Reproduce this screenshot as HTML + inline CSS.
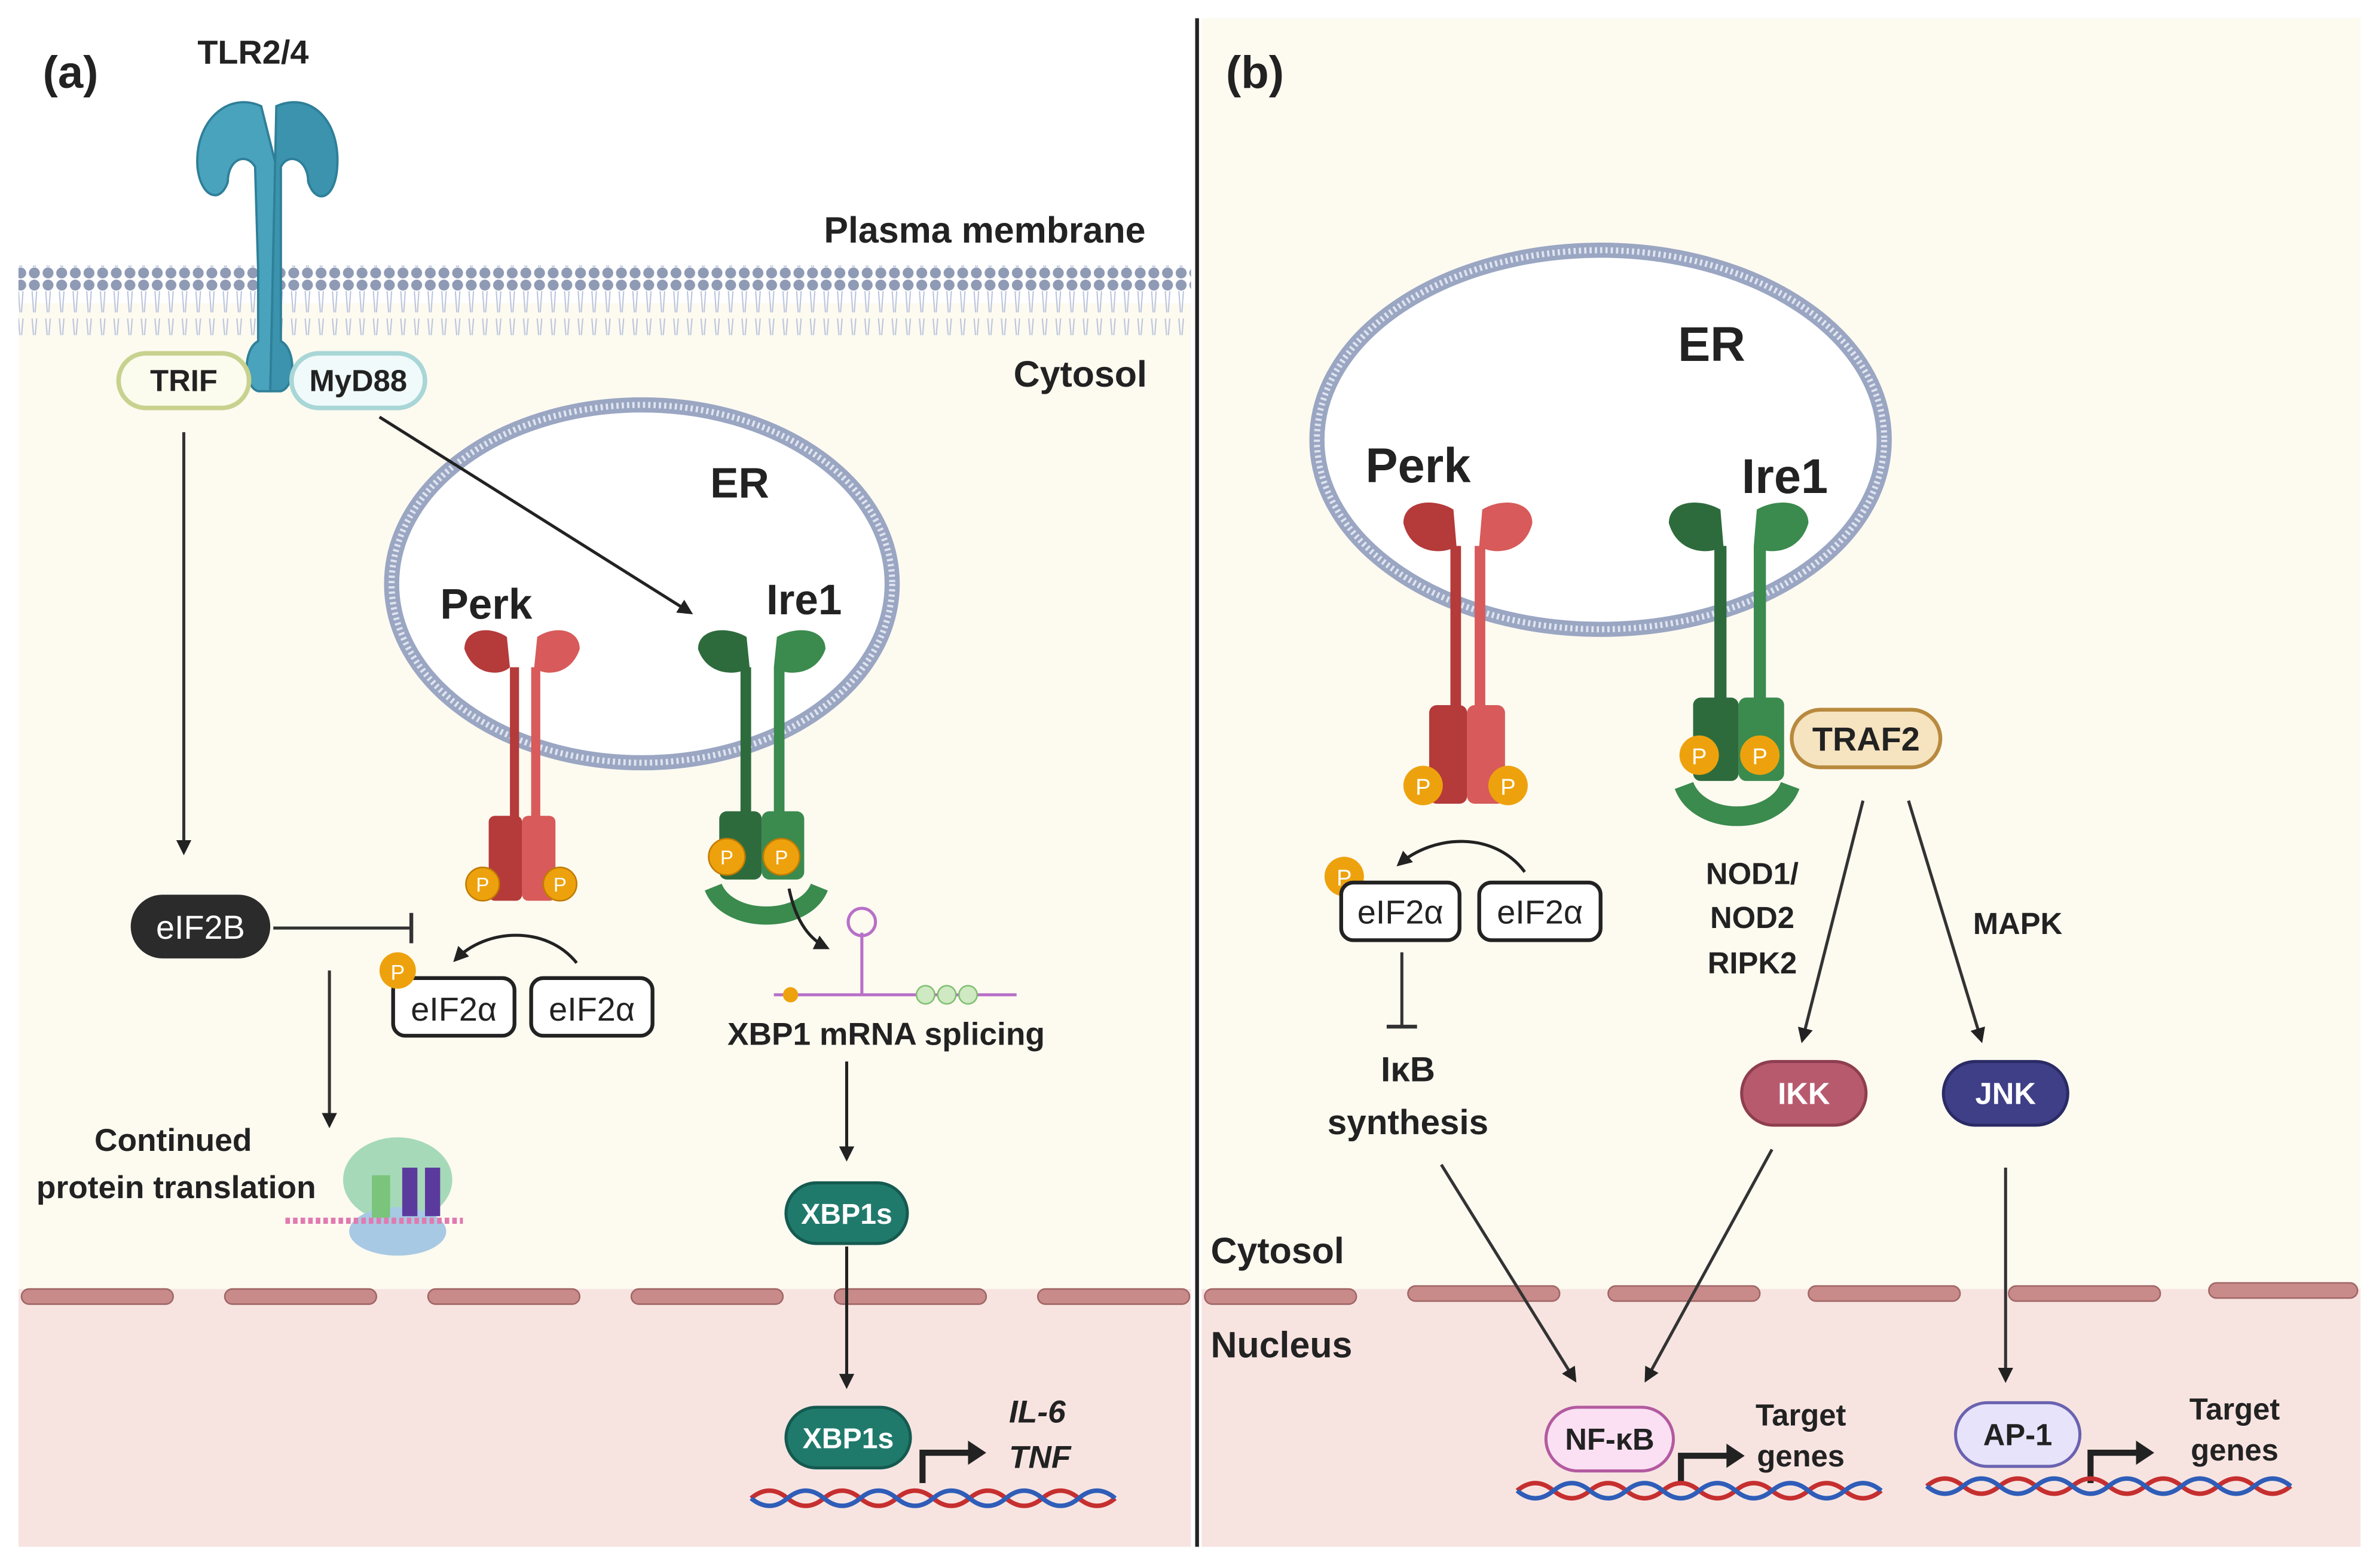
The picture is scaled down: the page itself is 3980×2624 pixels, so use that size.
<!DOCTYPE html>
<html><head><meta charset="utf-8"><style>
html,body{margin:0;padding:0;background:#fff}
svg{display:block}
text{font-family:"Liberation Sans",sans-serif;fill:#222}
</style></head><body>
<svg width="3980" height="2624" viewBox="0 0 1568 1034" xmlns="http://www.w3.org/2000/svg">
<defs>
<marker id="ar" markerWidth="10" markerHeight="10" refX="8" refY="5" orient="auto" markerUnits="userSpaceOnUse"><path d="M0,0 L10,5 L0,10 z" fill="#222"/></marker>
<pattern id="mem" width="9" height="46" patternUnits="userSpaceOnUse"><circle cx="4.5" cy="4" r="3.6" fill="#8f9ab5"/><circle cx="4.5" cy="42" r="3.6" fill="#8f9ab5"/><path d="M3,8 L4,22 M6,8 L5,22 M3,26 L4,38 M6,26 L5,38" stroke="#b9c3dd" stroke-width="0.8"/></pattern>
<linearGradient id="dna" x1="0" x2="1"><stop offset="0" stop-color="#c62f2f"/><stop offset="1" stop-color="#2f5db8"/></linearGradient>
</defs>
<rect width="1568" height="1034" fill="#fff"/>
<!-- panel a -->
<rect x="12" y="20" width="773" height="1000" fill="#fff"/>
<rect x="12" y="200" width="773" height="650" fill="#fdfaf0"/>
<rect x="12" y="850" width="773" height="170" fill="#f7e4e1"/>
<rect x="12" y="175" width="773" height="46" fill="url(#mem)"/>
<!-- panel b -->
<rect x="792" y="12" width="764" height="838" fill="#fdfaf0"/>
<rect x="792" y="850" width="764" height="170" fill="#f7e4e1"/>
<line x1="789" y1="12" x2="789" y2="1020" stroke="#222" stroke-width="2.5"/>
<!-- nuclear membrane -->
<g fill="#c98a8a" stroke="#a06666" stroke-width="1">
<rect x="14" y="850" width="100" height="10" rx="5"/><rect x="148" y="850" width="100" height="10" rx="5"/><rect x="282" y="850" width="100" height="10" rx="5"/><rect x="416" y="850" width="100" height="10" rx="5"/><rect x="550" y="850" width="100" height="10" rx="5"/><rect x="684" y="850" width="100" height="10" rx="5"/>
<rect x="794" y="850" width="100" height="10" rx="5"/><rect x="928" y="848" width="100" height="10" rx="5"/><rect x="1060" y="848" width="100" height="10" rx="5"/><rect x="1192" y="848" width="100" height="10" rx="5"/><rect x="1324" y="848" width="100" height="10" rx="5"/><rect x="1456" y="846" width="98" height="10" rx="5"/>
</g>
<text x="28" y="58" font-size="30" font-weight="bold">(a)</text>
<text x="808" y="58" font-size="30" font-weight="bold">(b)</text>
<text x="130" y="42" font-size="22" font-weight="bold">TLR2/4</text>
<text x="543" y="160" font-size="24" font-weight="bold">Plasma membrane</text>
<text x="668" y="255" font-size="24" font-weight="bold">Cytosol</text>
<text x="798" y="833" font-size="24" font-weight="bold">Cytosol</text>
<text x="798" y="895" font-size="24" font-weight="bold">Nucleus</text>
<!-- TLR -->
<g fill="#4aa3bd" stroke="#2f7f98" stroke-width="1.5">
<path d="M172,70 C150,60 128,80 130,110 C132,130 145,135 150,120 C150,105 162,100 168,110 L170,178 L170,225 C160,230 160,255 170,258 L178,258 L180,178 L182,110 Z"/>
<path d="M182,70 C205,60 225,80 222,112 C220,132 208,135 203,120 C203,105 190,100 185,110 L185,178 L185,225 C195,230 195,255 185,258 L178,258 Z" fill="#3b93ad"/>
</g>
<rect x="78" y="233" width="86" height="36" rx="18" fill="#fbfbee" stroke="#c8d28f" stroke-width="3"/>
<text x="121" y="258" font-size="20" font-weight="bold" text-anchor="middle">TRIF</text>
<rect x="192" y="233" width="88" height="36" rx="18" fill="#f0fafa" stroke="#a9d6d6" stroke-width="3"/>
<text x="236" y="258" font-size="20" font-weight="bold" text-anchor="middle">MyD88</text>
<!-- ER a -->
<ellipse cx="423" cy="385" rx="165" ry="118" fill="#fff" stroke="#9aa6c2" stroke-width="10"/>
<ellipse cx="423" cy="385" rx="165" ry="118" fill="none" stroke="#dfe4ef" stroke-width="4" stroke-dasharray="1.5 2"/>
<text x="468" y="328" font-size="28" font-weight="bold">ER</text>
<text x="290" y="408" font-size="28" font-weight="bold">Perk</text>
<text x="505" y="405" font-size="28" font-weight="bold">Ire1</text>
<!-- Perk a -->
<g>
<path d="M306,428 C306,415 322,412 334,420 L336,440 C330,446 312,446 306,428Z" fill="#b53a3a"/>
<path d="M382,428 C382,415 366,412 354,420 L352,440 C358,446 376,446 382,428Z" fill="#d85a5a"/>
<rect x="336" y="440" width="6" height="100" fill="#b53a3a"/><rect x="350" y="440" width="6" height="100" fill="#d85a5a"/>
<rect x="322" y="538" width="22" height="56" rx="4" fill="#b53a3a"/><rect x="344" y="538" width="22" height="56" rx="4" fill="#d85a5a"/>
</g>
<!-- Ire1 a -->
<g>
<path d="M460,428 C460,415 478,412 492,420 L494,440 C486,446 466,446 460,428Z" fill="#2e6b3c"/>
<path d="M544,428 C544,415 526,412 512,420 L510,440 C518,446 538,446 544,428Z" fill="#3b8a4e"/>
<rect x="488" y="440" width="7" height="100" fill="#2e6b3c"/><rect x="510" y="440" width="7" height="100" fill="#3b8a4e"/>
<rect x="474" y="535" width="28" height="45" rx="5" fill="#2e6b3c"/><rect x="502" y="535" width="28" height="45" rx="5" fill="#3b8a4e"/>
<path d="M470,585 C480,610 530,610 540,585" fill="none" stroke="#3b8a4e" stroke-width="12"/>
</g>
<g fill="#eda20d" stroke="#c07b00" stroke-width="1"><circle cx="318" cy="583" r="11"/><circle cx="369" cy="583" r="11"/><circle cx="479" cy="565" r="12"/><circle cx="515" cy="565" r="12"/></g>
<g font-size="13" text-anchor="middle" fill="#fff"><text x="318" y="588" style="fill:#fff">P</text><text x="369" y="588" style="fill:#fff">P</text><text x="479" y="570" style="fill:#fff">P</text><text x="515" y="570" style="fill:#fff">P</text></g>
<!-- arrows a -->
<line x1="121" y1="285" x2="121" y2="562" stroke="#333" stroke-width="2" marker-end="url(#ar)"/>
<line x1="250" y1="275" x2="455" y2="404" stroke="#222" stroke-width="2" marker-end="url(#ar)"/>
<rect x="86" y="590" width="92" height="42" rx="21" fill="#2b2b2b"/>
<text x="132" y="619" font-size="22" text-anchor="middle" style="fill:#fff">eIF2B</text>
<line x1="180" y1="612" x2="270" y2="612" stroke="#333" stroke-width="2"/><line x1="271" y1="602" x2="271" y2="622" stroke="#333" stroke-width="2.5"/>
<line x1="217" y1="640" x2="217" y2="742" stroke="#333" stroke-width="2" marker-end="url(#ar)"/>
<rect x="259" y="645" width="80" height="38" rx="8" fill="#fff" stroke="#222" stroke-width="2.5"/>
<text x="299" y="673" font-size="22" text-anchor="middle">eIF2α</text>
<rect x="350" y="645" width="80" height="38" rx="8" fill="#fff" stroke="#222" stroke-width="2.5"/>
<text x="390" y="673" font-size="22" text-anchor="middle">eIF2α</text>
<circle cx="262" cy="640" r="12" fill="#eda20d"/><text x="262" y="646" font-size="14" text-anchor="middle" style="fill:#fff">P</text>
<path d="M380,635 C360,610 320,612 300,633" fill="none" stroke="#222" stroke-width="2" marker-end="url(#ar)"/>
<text x="114" y="759" font-size="21" font-weight="bold" text-anchor="middle">Continued</text>
<text x="116" y="790" font-size="21" font-weight="bold" text-anchor="middle">protein translation</text>
<!-- ribosome -->
<ellipse cx="262" cy="778" rx="36" ry="28" fill="#a6d9b8"/><ellipse cx="262" cy="812" rx="32" ry="16" fill="#a7c9e3"/>
<rect x="245" y="775" width="12" height="28" fill="#7ac47c"/><rect x="265" y="770" width="10" height="32" fill="#5b3a9e"/><rect x="280" y="770" width="10" height="32" fill="#5b3a9e"/>
<line x1="188" y1="805" x2="305" y2="805" stroke="#e07ab0" stroke-width="4" stroke-dasharray="3 2"/>
<!-- XBP1 splicing -->
<path d="M520,586 C525,610 535,620 545,625" fill="none" stroke="#222" stroke-width="2" marker-end="url(#ar)"/>
<line x1="510" y1="656" x2="670" y2="656" stroke="#b870c8" stroke-width="2"/>
<line x1="568" y1="656" x2="568" y2="615" stroke="#b870c8" stroke-width="2"/>
<circle cx="568" cy="608" r="9" fill="none" stroke="#b870c8" stroke-width="2"/>
<circle cx="521" cy="656" r="5" fill="#eda20d"/>
<g fill="#cfe9c2" stroke="#7fbf70"><circle cx="610" cy="656" r="6"/><circle cx="624" cy="656" r="6"/><circle cx="638" cy="656" r="6"/></g>
<text x="584" y="689" font-size="21" font-weight="bold" text-anchor="middle">XBP1 mRNA splicing</text>
<line x1="558" y1="700" x2="558" y2="764" stroke="#222" stroke-width="2" marker-end="url(#ar)"/>
<rect x="518" y="780" width="80" height="40" rx="20" fill="#207a6c" stroke="#155a50" stroke-width="2"/>
<text x="558" y="807" font-size="19" font-weight="bold" text-anchor="middle" style="fill:#fff">XBP1s</text>
<line x1="558" y1="822" x2="558" y2="914" stroke="#222" stroke-width="2" marker-end="url(#ar)"/>
<rect x="518" y="928" width="82" height="40" rx="20" fill="#207a6c" stroke="#155a50" stroke-width="2"/>
<text x="559" y="955" font-size="19" font-weight="bold" text-anchor="middle" style="fill:#fff">XBP1s</text>
<path d="M608,978 L608,958 L640,958" fill="none" stroke="#222" stroke-width="4"/><path d="M638,950 L650,958 L638,966z" fill="#222"/>
<text x="665" y="938" font-size="21" font-weight="bold" font-style="italic">IL-6</text>
<text x="665" y="968" font-size="21" font-weight="bold" font-style="italic">TNF</text>
<path d="M495,988 q12,-10 24,0 t24,0 t24,0 t24,0 t24,0 t24,0 t24,0 t24,0 t24,0 t24,0" fill="none" stroke="#c62f2f" stroke-width="3"/>
<path d="M495,988 q12,10 24,0 t24,0 t24,0 t24,0 t24,0 t24,0 t24,0 t24,0 t24,0 t24,0" fill="none" stroke="#2f5db8" stroke-width="3"/>
<!-- ===== panel b ===== -->
<ellipse cx="1055" cy="290" rx="187" ry="125" fill="#fff" stroke="#9aa6c2" stroke-width="10"/>
<ellipse cx="1055" cy="290" rx="187" ry="125" fill="none" stroke="#dfe4ef" stroke-width="4" stroke-dasharray="1.5 2"/>
<text x="1106" y="238" font-size="32" font-weight="bold">ER</text>
<text x="900" y="318" font-size="32" font-weight="bold">Perk</text>
<text x="1148" y="325" font-size="32" font-weight="bold">Ire1</text>
<g>
<path d="M925,345 C925,330 945,328 958,336 L960,360 C952,366 930,366 925,345Z" fill="#b53a3a"/>
<path d="M1010,345 C1010,330 990,328 977,336 L975,360 C983,366 1005,366 1010,345Z" fill="#d85a5a"/>
<rect x="956" y="360" width="7" height="110" fill="#b53a3a"/><rect x="972" y="360" width="7" height="110" fill="#d85a5a"/>
<rect x="942" y="465" width="25" height="65" rx="5" fill="#b53a3a"/><rect x="967" y="465" width="25" height="65" rx="5" fill="#d85a5a"/>
</g>
<g>
<path d="M1100,345 C1100,330 1120,328 1134,336 L1136,360 C1128,366 1106,366 1100,345Z" fill="#2e6b3c"/>
<path d="M1192,345 C1192,330 1172,328 1158,336 L1156,360 C1164,366 1186,366 1192,345Z" fill="#3b8a4e"/>
<rect x="1130" y="360" width="8" height="105" fill="#2e6b3c"/><rect x="1156" y="360" width="8" height="105" fill="#3b8a4e"/>
<rect x="1116" y="460" width="30" height="55" rx="5" fill="#2e6b3c"/><rect x="1146" y="460" width="30" height="55" rx="5" fill="#3b8a4e"/>
<path d="M1110,518 C1120,545 1170,545 1180,518" fill="none" stroke="#3b8a4e" stroke-width="13"/>
</g>
<g fill="#eda20d"><circle cx="938" cy="518" r="13"/><circle cx="994" cy="518" r="13"/><circle cx="1120" cy="498" r="13"/><circle cx="1160" cy="498" r="13"/><circle cx="886" cy="578" r="13"/></g>
<g font-size="15" text-anchor="middle"><text x="938" y="524" style="fill:#fff">P</text><text x="994" y="524" style="fill:#fff">P</text><text x="1120" y="504" style="fill:#fff">P</text><text x="1160" y="504" style="fill:#fff">P</text><text x="886" y="584" style="fill:#fff">P</text></g>
<rect x="1181" y="468" width="98" height="38" rx="19" fill="#f6e3bf" stroke="#b88a3e" stroke-width="2.5"/>
<text x="1230" y="495" font-size="22" font-weight="bold" text-anchor="middle">TRAF2</text>
<rect x="884" y="582" width="78" height="38" rx="8" fill="#fff" stroke="#222" stroke-width="2.5"/>
<text x="923" y="609" font-size="22" text-anchor="middle">eIF2α</text>
<rect x="975" y="582" width="80" height="38" rx="8" fill="#fff" stroke="#222" stroke-width="2.5"/>
<text x="1015" y="609" font-size="22" text-anchor="middle">eIF2α</text>
<path d="M1005,575 C985,548 945,550 922,570" fill="none" stroke="#222" stroke-width="2" marker-end="url(#ar)"/>
<line x1="924" y1="628" x2="924" y2="676" stroke="#333" stroke-width="2"/><line x1="914" y1="677" x2="934" y2="677" stroke="#333" stroke-width="2.5"/>
<text x="928" y="713" font-size="23" font-weight="bold" text-anchor="middle">IκB</text>
<text x="928" y="748" font-size="23" font-weight="bold" text-anchor="middle">synthesis</text>
<text x="1155" y="583" font-size="20" font-weight="bold" text-anchor="middle">NOD1/</text>
<text x="1155" y="612" font-size="20" font-weight="bold" text-anchor="middle">NOD2</text>
<text x="1155" y="642" font-size="20" font-weight="bold" text-anchor="middle">RIPK2</text>
<text x="1330" y="616" font-size="20" font-weight="bold" text-anchor="middle">MAPK</text>
<line x1="1228" y1="528" x2="1188" y2="686" stroke="#333" stroke-width="2" marker-end="url(#ar)"/>
<line x1="1258" y1="528" x2="1306" y2="686" stroke="#333" stroke-width="2" marker-end="url(#ar)"/>
<rect x="1148" y="700" width="82" height="42" rx="21" fill="#b85a6e" stroke="#8e3e50" stroke-width="2"/>
<text x="1189" y="728" font-size="20" font-weight="bold" text-anchor="middle" style="fill:#fff">IKK</text>
<rect x="1281" y="700" width="82" height="42" rx="21" fill="#3e3f86" stroke="#2a2b66" stroke-width="2"/>
<text x="1322" y="728" font-size="20" font-weight="bold" text-anchor="middle" style="fill:#fff">JNK</text>
<line x1="950" y1="768" x2="1038" y2="910" stroke="#333" stroke-width="2" marker-end="url(#ar)"/>
<line x1="1168" y1="758" x2="1085" y2="910" stroke="#333" stroke-width="2" marker-end="url(#ar)"/>
<line x1="1322" y1="770" x2="1322" y2="910" stroke="#333" stroke-width="2" marker-end="url(#ar)"/>
<rect x="1019" y="928" width="84" height="42" rx="21" fill="#fbe0f3" stroke="#b35aa0" stroke-width="2"/>
<text x="1061" y="956" font-size="20" font-weight="bold" text-anchor="middle">NF-κB</text>
<rect x="1289" y="925" width="82" height="42" rx="21" fill="#e6e3fb" stroke="#6a62b0" stroke-width="2"/>
<text x="1330" y="953" font-size="20" font-weight="bold" text-anchor="middle">AP-1</text>
<path d="M1108,978 L1108,960 L1140,960" fill="none" stroke="#222" stroke-width="4"/><path d="M1138,952 L1150,960 L1138,968z" fill="#222"/>
<path d="M1378,978 L1378,958 L1410,958" fill="none" stroke="#222" stroke-width="4"/><path d="M1408,950 L1420,958 L1408,966z" fill="#222"/>
<text x="1187" y="940" font-size="20" font-weight="bold" text-anchor="middle">Target</text>
<text x="1187" y="967" font-size="20" font-weight="bold" text-anchor="middle">genes</text>
<text x="1473" y="936" font-size="20" font-weight="bold" text-anchor="middle">Target</text>
<text x="1473" y="963" font-size="20" font-weight="bold" text-anchor="middle">genes</text>
<path d="M1000,983 q12,-10 24,0 t24,0 t24,0 t24,0 t24,0 t24,0 t24,0 t24,0 t24,0 t24,0" fill="none" stroke="#c62f2f" stroke-width="3"/>
<path d="M1000,983 q12,10 24,0 t24,0 t24,0 t24,0 t24,0 t24,0 t24,0 t24,0 t24,0 t24,0" fill="none" stroke="#2f5db8" stroke-width="3"/>
<path d="M1270,980 q12,-10 24,0 t24,0 t24,0 t24,0 t24,0 t24,0 t24,0 t24,0 t24,0 t24,0" fill="none" stroke="#c62f2f" stroke-width="3"/>
<path d="M1270,980 q12,10 24,0 t24,0 t24,0 t24,0 t24,0 t24,0 t24,0 t24,0 t24,0 t24,0" fill="none" stroke="#2f5db8" stroke-width="3"/>
</svg>
</body></html>
